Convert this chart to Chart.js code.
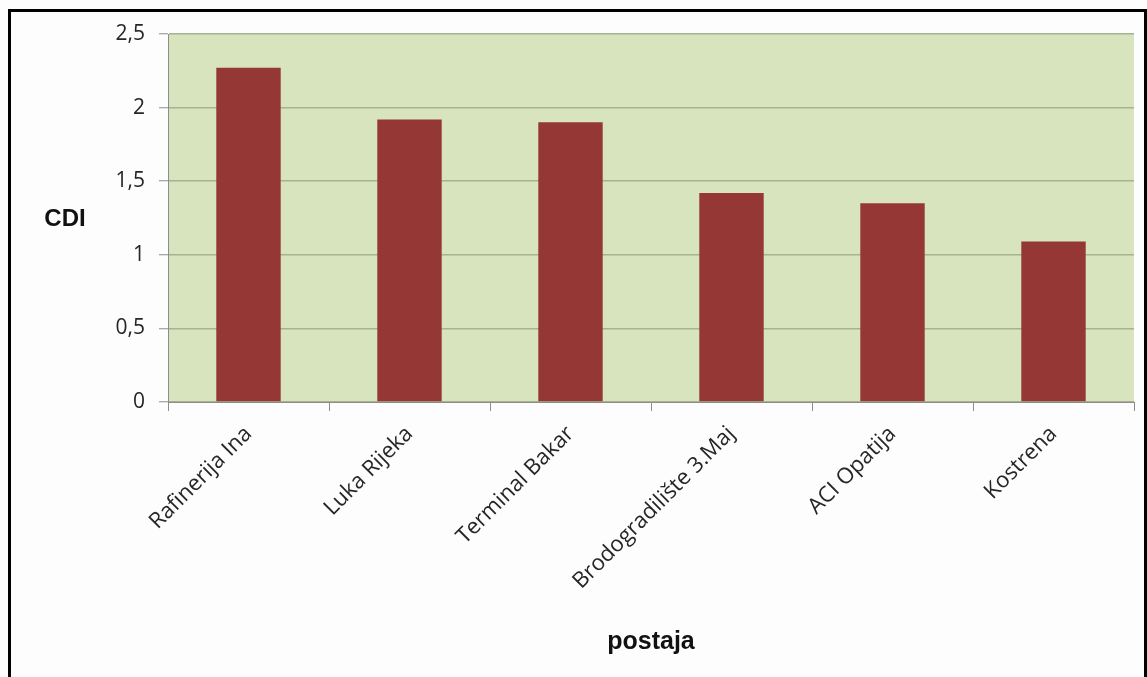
<!DOCTYPE html>
<html>
<head>
<meta charset="utf-8">
<script src="https://cdn.jsdelivr.net/npm/chart.js@4/dist/chart.umd.min.js"></script>
<style>
  html, body { margin: 0; padding: 0; background: #fdfdfd; overflow: hidden; }
  #wrap { position: absolute; left: 0; top: 0; width: 1147px; height: 677px; }
  #frame { position: absolute; left: 8px; top: 9px; width: 1139px; height: 720px; box-sizing: border-box;
           border: 3px solid #000; border-bottom: none; pointer-events: none; }
</style>
</head>
<body>
<div id="wrap"><canvas id="c" width="1147" height="677"></canvas></div>
<div id="frame"></div>
<script>
const categories = ["Rafinerija Ina", "Luka Rijeka", "Terminal Bakar", "Brodogradilište 3.Maj", "ACI Opatija", "Kostrena"];
const cdiValues = [2.27, 1.92, 1.90, 1.42, 1.35, 1.09];
const yAxisTitle = "CDI";
const xAxisTitle = "postaja";

const plotBg = {
  id: 'plotBg',
  beforeDraw(chart) {
    const {ctx, chartArea: a} = chart;
    ctx.save();
    ctx.fillStyle = '#d7e4bd';
    ctx.fillRect(a.left, a.top, a.right - a.left, a.bottom - a.top);
    ctx.restore();
  },
  afterDraw(chart) {
    const {ctx, chartArea: a} = chart;
    ctx.save();
    ctx.font = 'bold 24px "Liberation Sans", Arial, sans-serif';
    ctx.fillStyle = '#111';
    ctx.textAlign = 'center';
    ctx.textBaseline = 'middle';
    ctx.fillText(yAxisTitle, 65, (a.top + a.bottom) / 2 + 1);
    ctx.restore();
  }
};

new Chart(document.getElementById('c'), {
  type: 'bar',
  data: {
    labels: categories,
    datasets: [{
      data: cdiValues,
      backgroundColor: '#953735',
      borderWidth: 0,
      barPercentage: 0.4,
      categoryPercentage: 1.0
    }]
  },
  options: {
    responsive: false,
    animation: false,
    devicePixelRatio: 1,
    layout: { padding: { left: 0, top: 34, right: 13, bottom: 0 } },
    plugins: { legend: { display: false }, tooltip: { enabled: false } },
    scales: {
      x: {
        offset: true,
        grid: { offset: true, drawOnChartArea: false, drawTicks: true, tickLength: 9, color: '#8c8c8c', lineWidth: 1 },
        border: { display: true, color: '#8c8c8c', width: 1 },
        ticks: {
          minRotation: 45, maxRotation: 45, padding: 10,
          color: '#262626',
          font: { family: '"Open Sans", sans-serif', size: 22 }
        },
        title: {
          display: true, text: xAxisTitle, color: '#111',
          font: { family: '"Liberation Sans", Arial, sans-serif', size: 25, weight: 'bold' },
          padding: { top: 0, bottom: 20 }
        },
        afterFit(scale) { scale.height = 275; }
      },
      y: {
        min: 0, max: 2.5,
        ticks: {
          stepSize: 0.5, padding: 14, color: '#262626',
          font: { family: '"Open Sans", sans-serif', size: 21 },
          callback: (v) => String(v).replace('.', ',')
        },
        grid: { color: '#a8b293', lineWidth: 1.5, tickLength: 9, tickColor: '#8c8c8c', tickWidth: 1 },
        border: { display: true, color: '#8c8c8c', width: 1 },
        afterFit(scale) { scale.width = 168; }
      }
    }
  },
  plugins: [plotBg]
});
</script>
</body>
</html>
